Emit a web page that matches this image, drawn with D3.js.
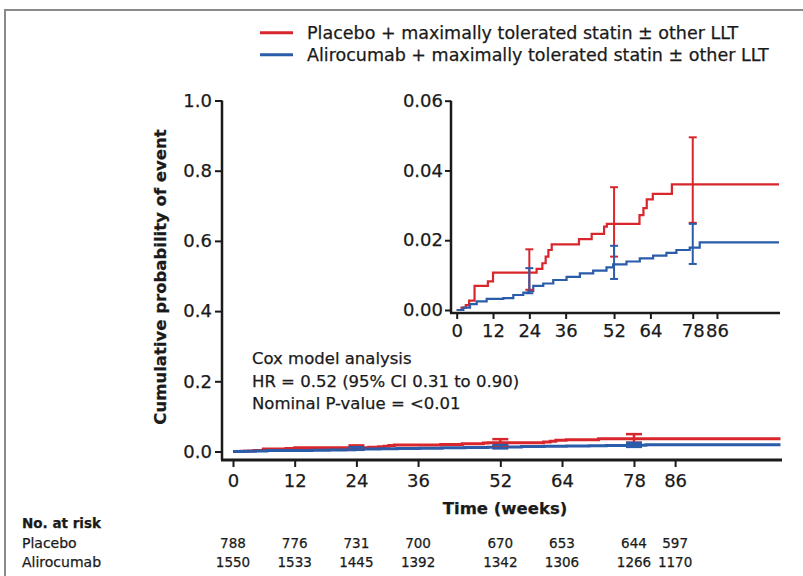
<!DOCTYPE html>
<html>
<head>
<meta charset="utf-8">
<script src="https://cdn.jsdelivr.net/npm/d3@7"></script>
<style>
  body { margin: 0; background: #fff; }
  text { font-family: "DejaVu Sans", sans-serif; fill: #1a1a1a; stroke: #1a1a1a; stroke-width: 0.25px; }
  .axis path, .axis line { stroke: #1a1a1a; }
</style>
</head>
<body>
<div id="chart"></div>
<script>
// Kaplan-Meier style step data (weeks, cumulative probability)
const placeboWeeks = [0, 1.6, 3.0, 4.1, 5.9, 10.3, 12, 26.4, 28.3, 29.4, 30.3, 31.4, 40.4, 44.6, 48.7, 49.6, 60.4, 61.7, 62.8, 64.8, 71.1, 106.5];
const placeboProb = [0, 0.0007, 0.0014, 0.0027, 0.0069, 0.0082, 0.0107, 0.0118, 0.0134, 0.0153, 0.0172, 0.0188, 0.0203, 0.0218, 0.0239, 0.0247, 0.0272, 0.0292, 0.0317, 0.0333, 0.036, 0.036];
const aliroWeeks = [0, 2.2, 4.4, 6.6, 9.9, 15.4, 18.7, 22, 23.7, 25.3, 28.6, 31.9, 36.3, 40.7, 45.1, 49.5, 51.7, 56.1, 60.5, 64.9, 69.3, 72.6, 77, 80.3, 106.5];
const aliroProb = [0, 0.0007, 0.0017, 0.0025, 0.0032, 0.0034, 0.0043, 0.005, 0.0054, 0.0069, 0.0076, 0.0086, 0.0095, 0.0105, 0.0113, 0.0122, 0.0131, 0.0139, 0.0148, 0.0156, 0.0164, 0.0172, 0.0179, 0.0194, 0.0194];

// 95% CI error bars
const ciWeeks = [24, 52, 78];
const placeboLo = [0.0058, 0.0153, 0.025];
const placeboHi = [0.0174, 0.0352, 0.0495];
const aliroLo = [0.0048, 0.0089, 0.0132];
const aliroHi = [0.012, 0.0184, 0.0247];

// Axis ticks
const weekTicks = [0, 12, 24, 36, 52, 64, 78, 86];
const mainTicks = [0, 0.2, 0.4, 0.6, 0.8, 1.0];
const insetTicks = [0, 0.02, 0.04, 0.06];

// Number at risk
const placeboRisk = [788, 776, 731, 700, 670, 653, 644, 597];
const aliroRisk = [1550, 1533, 1445, 1392, 1342, 1306, 1266, 1170];

const legendLabels = [
    "Placebo + maximally tolerated statin \u00b1 other LLT",
    "Alirocumab + maximally tolerated statin \u00b1 other LLT"
];
const coxLines = ["Cox model analysis", "HR = 0.52 (95% CI 0.31 to 0.90)", "Nominal P-value = <0.01"];

const red = "#d8262c";
const blue = "#2a5caa";

let width = 803, height = 576;

let svg = d3.select("#chart")
    .append("svg")
    .attr("width", width)
    .attr("height", height);

svg.append("rect").attr("width", width).attr("height", height).attr("fill", "#fff");

// Frame (top + left grey border)
svg.append("path")
    .attr("d", "M5,576V10H803")
    .attr("fill", "none")
    .attr("stroke", "#8a8a8a")
    .attr("stroke-width", 2);

const series = [
    {weeks: placeboWeeks, prob: placeboProb, lo: placeboLo, hi: placeboHi, color: red},
    {weeks: aliroWeeks, prob: aliroProb, lo: aliroLo, hi: aliroHi, color: blue}
];

function drawPanel(x, y, opts) {
    const line = d3.line()
        .x(d => x(d[0]))
        .y(d => y(d[1]))
        .curve(d3.curveStepAfter);

    // y axis
    const ya = svg.append("g")
        .attr("class", "axis")
        .attr("transform", `translate(${opts.yAxisX},0)`)
        .call(d3.axisLeft(y).tickValues(opts.yTicks).tickFormat(d3.format(opts.fmt))
            .tickSize(opts.tick).tickSizeOuter(0).tickPadding(opts.yPad));
    ya.select(".domain").attr("d", `M0,${y.range()[1]}V${opts.xAxisY}`).attr("stroke-width", 2.5);
    ya.selectAll(".tick line").attr("stroke-width", 2);
    ya.selectAll("text").style("font-size", "18px");

    // x axis
    const xa = svg.append("g")
        .attr("class", "axis")
        .attr("transform", `translate(0,${opts.xAxisY})`)
        .call(d3.axisBottom(x).tickValues(weekTicks).tickSize(opts.tick).tickSizeOuter(0).tickPadding(opts.xPad));
    xa.select(".domain").attr("d", `M${opts.yAxisX - 1},0H${opts.xEnd}`).attr("stroke-width", opts.xAxisW);
    xa.selectAll(".tick line").attr("stroke-width", 2);
    xa.selectAll("text").style("font-size", "18px");

    // step curves
    series.forEach(s => {
        svg.append("path")
            .datum(s.weeks.map((w, i) => [w, s.prob[i]]))
            .attr("fill", "none")
            .attr("stroke", s.color)
            .attr("stroke-width", opts.lineW)
            .attr("d", line);
    });

    // error bars
    series.forEach(s => {
        const g = svg.append("g").attr("stroke", s.color).attr("stroke-width", opts.barW);
        ciWeeks.forEach((w, i) => {
            const cx = x(w);
            g.append("line").attr("x1", cx).attr("x2", cx).attr("y1", y(s.lo[i])).attr("y2", y(s.hi[i]));
            [s.lo[i], s.hi[i]].forEach(v => {
                g.append("line").attr("x1", cx - opts.cap).attr("x2", cx + opts.cap)
                    .attr("y1", y(v)).attr("y2", y(v));
            });
        });
    });
}

// Main panel
const xMain = d3.scaleLinear().domain([0, 106.5]).range([233, 780.5]);
const yMain = d3.scaleLinear().domain([0, 1]).range([451.5, 100.5]);
drawPanel(xMain, yMain, {yAxisX: 222, xAxisY: 460, xEnd: 782, yTicks: mainTicks, fmt: ".1f",
    tick: 7, yPad: 3, xPad: 7, lineW: 3, barW: 2.5, cap: 8, xAxisW: 3});

// Inset panel
const xIn = d3.scaleLinear().domain([0, 106.5]).range([456.7, 779]);
const yIn = d3.scaleLinear().domain([0, 0.06]).range([310, 100.7]);
drawPanel(xIn, yIn, {yAxisX: 451, xAxisY: 313, xEnd: 780, yTicks: insetTicks, fmt: ".2f",
    tick: 6, yPad: 2, xPad: 5, lineW: 2.2, barW: 2, cap: 4, xAxisW: 2.5});

// Axis titles
svg.append("text")
    .attr("transform", "translate(166,277) rotate(-90)")
    .attr("text-anchor", "middle")
    .style("font-size", "16.5px")
    .style("font-weight", "bold")
    .text("Cumulative probability of event");

svg.append("text")
    .attr("x", 505)
    .attr("y", 514)
    .attr("text-anchor", "middle")
    .style("font-size", "16.5px")
    .style("font-weight", "bold")
    .text("Time (weeks)");

// Legend
[red, blue].forEach((c, i) => {
    const ly = 32.7 + i * 22;
    svg.append("line").attr("x1", 260).attr("x2", 293).attr("y1", ly).attr("y2", ly)
        .attr("stroke", c).attr("stroke-width", 3);
    svg.append("text").attr("x", 307).attr("y", ly + 6.3)
        .style("font-size", "17.5px").text(legendLabels[i]);
});

// Cox model annotation
coxLines.forEach((t, i) => {
    svg.append("text").attr("x", 252).attr("y", 364 + i * 22.5)
        .style("font-size", "16.5px").text(t);
});

// Number at risk table
svg.append("text").attr("x", 22).attr("y", 528)
    .style("font-size", "13.5px").style("font-weight", "bold").text("No. at risk");
svg.append("text").attr("x", 22).attr("y", 548).style("font-size", "14px").text("Placebo");
svg.append("text").attr("x", 22).attr("y", 567).style("font-size", "14px").text("Alirocumab");

[placeboRisk, aliroRisk].forEach((row, r) => {
    svg.selectAll(null)
        .data(row)
        .enter()
        .append("text")
        .attr("x", (d, i) => xMain(weekTicks[i]))
        .attr("y", 548 + r * 19)
        .attr("text-anchor", "middle")
        .style("font-size", "13.5px")
        .text(d => d);
});
</script>
</body>
</html>
